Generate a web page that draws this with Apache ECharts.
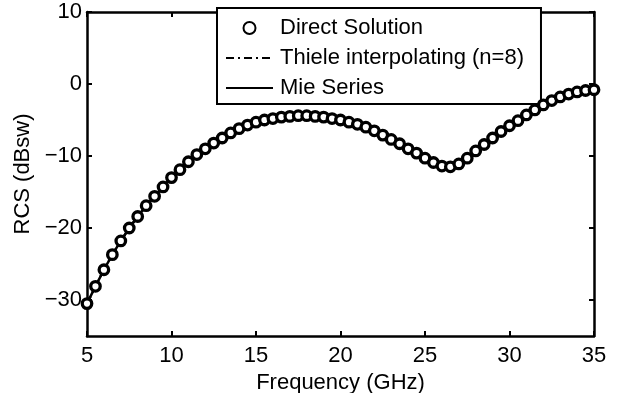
<!DOCTYPE html>
<html>
<head>
<meta charset="utf-8">
<script src="https://cdn.jsdelivr.net/npm/echarts@6/dist/echarts.min.js"></script>
<style>
  html, body { margin: 0; padding: 0; background: #fff; }
  #main { width: 621px; height: 393px; }
</style>
</head>
<body>
<div id="main"></div>
<script>
// frequency samples (GHz)
const freq = [];
for (let f = 5; f <= 35.001; f += 0.5) freq.push(+f.toFixed(1));

// RCS values (dBsw), one per 0.5 GHz
const rcs = [
  -30.5, -28.1, -25.8, -23.7, -21.8, -20.0, -18.4, -16.9, -15.6, -14.3,
  -13.0, -11.9, -10.8, -9.8, -9.0, -8.2, -7.5, -6.8, -6.2, -5.7,
  -5.3, -5.0, -4.8, -4.6, -4.5, -4.4, -4.4, -4.5, -4.6, -4.8,
  -5.0, -5.3, -5.6, -6.0, -6.5, -7.1, -7.7, -8.3, -9.0, -9.6,
  -10.3, -10.9, -11.4, -11.5, -11.1, -10.3, -9.3, -8.4, -7.5, -6.6,
  -5.8, -5.1, -4.3, -3.6, -2.9, -2.3, -1.8, -1.4, -1.1, -0.9,
  -0.8
];

const seriesNames = ['Direct Solution', 'Thiele interpolating (n=8)', 'Mie Series'];
const xTicks = [5, 10, 15, 20, 25, 30, 35];
const yTicks = [-30, -20, -10, 0, 10];

const pairs = freq.map((f, i) => [f, rcs[i]]);
const font = 'Liberation Sans, Arial, sans-serif';
const fs = 22;

const chart = echarts.init(document.getElementById('main'));

const tick = { show: true, inside: true, length: 5, lineStyle: { color: '#000', width: 2 } };
const line = { show: true, onZero: false, lineStyle: { color: '#000', width: 2.5 } };

chart.setOption({
  animation: false,
  backgroundColor: '#fff',
  grid: { left: 87, right: 27, top: 12, bottom: 57, containLabel: false, outerBoundsMode: 'none' },
  xAxis: [
    {
      type: 'value', min: 5, max: 35, interval: 5,
      name: 'Frequency (GHz)', nameLocation: 'middle', nameGap: 33,
      nameTextStyle: { color: '#000', fontSize: fs, fontFamily: font },
      axisLine: line,
      axisTick: Object.assign({ customValues: xTicks }, tick),
      axisLabel: { color: '#000', fontSize: fs, fontFamily: font, margin: 9, customValues: xTicks },
      splitLine: { show: false }
    },
    {
      type: 'value', min: 5, max: 35, interval: 5, position: 'top',
      axisLine: line,
      axisTick: Object.assign({ customValues: xTicks }, tick),
      axisLabel: { show: false }, splitLine: { show: false }
    }
  ],
  yAxis: [
    {
      type: 'value', min: -35, max: 10,
      name: 'RCS (dBsw)', nameLocation: 'middle', nameGap: 45,
      nameTextStyle: { color: '#000', fontSize: fs, fontFamily: font },
      axisLine: line,
      axisTick: Object.assign({ customValues: yTicks }, tick),
      axisLabel: { color: '#000', fontSize: fs, fontFamily: font, margin: 5, customValues: yTicks,
        formatter: v => String(v).replace('-', '\u2212') },
      splitLine: { show: false }
    },
    {
      type: 'value', min: -35, max: 10, position: 'right',
      axisLine: line,
      axisTick: Object.assign({ customValues: yTicks }, tick),
      axisLabel: { show: false }, splitLine: { show: false }
    }
  ],
  legend: {
    orient: 'vertical', left: 217, top: 8,
    padding: [9, 17, 5, 8],
    itemWidth: 47, itemHeight: 12, itemGap: 8,
    backgroundColor: '#fff', borderColor: '#000', borderWidth: 2,
    textStyle: { color: '#000', fontSize: fs, fontFamily: font, padding: [0, 0, 0, 2] },
    data: [
      { name: seriesNames[0], itemStyle: { opacity: 1 } },
      { name: seriesNames[1], itemStyle: { color: 'rgba(0,0,0,0)', borderWidth: 0 } },
      { name: seriesNames[2], itemStyle: { color: 'rgba(0,0,0,0)', borderWidth: 0 } }
    ]
  },
  series: [
    {
      name: seriesNames[2], type: 'line', data: pairs, showSymbol: false, symbol: 'none',
      color: '#000', lineStyle: { color: '#000', width: 2.5 }, z: 2
    },
    {
      name: seriesNames[1], type: 'line', data: pairs, showSymbol: false, symbol: 'none',
      color: '#000', lineStyle: { color: '#000', width: 2.5, type: [8, 4, 2, 4] }, z: 3
    },
    {
      name: seriesNames[0], type: 'scatter', data: pairs,
      symbol: 'circle', symbolSize: 9.5,
      itemStyle: { color: '#fff', borderColor: '#000', borderWidth: 3.3, opacity: 1 }, z: 4
    }
  ]
});
</script>
</body>
</html>
